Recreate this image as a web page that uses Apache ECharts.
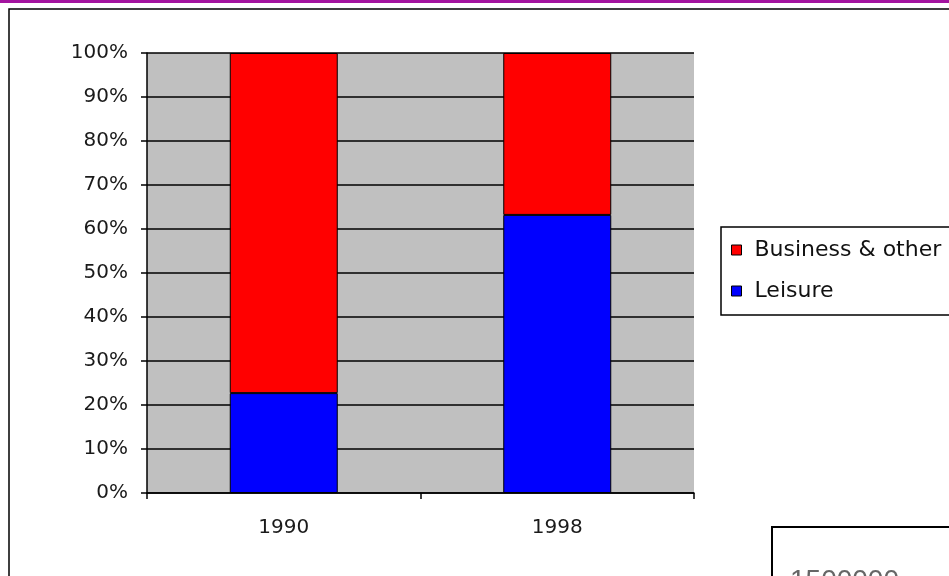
<!DOCTYPE html>
<html>
<head>
<meta charset="utf-8">
<script src="https://cdn.jsdelivr.net/npm/echarts@6/dist/echarts.min.js"></script>
<style>html,body{margin:0;padding:0;background:#fff;}#c{width:949px;height:576px;}</style>
</head>
<body>
<div id="c"></div>
<script>
const categories = ['1990', '1998'];
const leisure = [22.7, 63.2];
const business = [77.3, 36.8];
const seriesNames = ['Business & other', 'Leisure'];

const chart = echarts.init(document.getElementById('c'));
const font = 'DejaVu Sans, Verdana, sans-serif';
chart.setOption({
  animation: false,
  backgroundColor: '#fff',
  grid: { left: 147, right: 255, top: 53, bottom: 83, show: true, backgroundColor: '#c0c0c0', borderWidth: 0 },
  legend: {
    data: [seriesNames[0], seriesNames[1]],
    orient: 'vertical',
    left: 721, top: 227,
    padding: [12, 40, 13, 10],
    itemWidth: 10, itemHeight: 10, itemGap: 19,
    borderColor: '#000', borderWidth: 1.5,
    icon: 'rect',
    textStyle: { fontFamily: font, fontSize: 22, color: '#111', padding: [0, 0, 0, 8] },
    itemStyle: { borderColor: '#000', borderWidth: 1 }
  },
  xAxis: {
    type: 'category',
    data: categories,
    axisLine: { lineStyle: { color: '#000', width: 1.5 } },
    axisTick: { show: true, length: 6, lineStyle: { color: '#000', width: 1.5 } },
    axisLabel: { fontFamily: font, fontSize: 20, color: '#1a1a1a', margin: 25 }
  },
  yAxis: {
    type: 'value',
    min: 0, max: 100, interval: 10,
    axisLine: { show: true, lineStyle: { color: '#000', width: 1.5 } },
    axisTick: { show: true, length: 6, lineStyle: { color: '#000', width: 1.5 } },
    axisLabel: { fontFamily: font, fontSize: 20, color: '#1a1a1a', margin: 19, formatter: '{value}%' },
    splitLine: { show: true, lineStyle: { color: '#000', width: 1.5 } }
  },
  series: [
    { name: seriesNames[1], type: 'bar', stack: 't', data: leisure, barWidth: 108,
      itemStyle: { color: '#0000ff', borderColor: '#000', borderWidth: 1 } },
    { name: seriesNames[0], type: 'bar', stack: 't', data: business, barWidth: 108,
      itemStyle: { color: '#ff0000', borderColor: '#000', borderWidth: 1 } }
  ],
  graphic: [
    { type: 'rect', shape: { x: 0, y: 0, width: 949, height: 3 }, style: { fill: '#a3149f' } },
    { type: 'rect', shape: { x: 9, y: 9, width: 960, height: 600 }, style: { fill: 'none', stroke: '#000', lineWidth: 1.5 }, z: 0 },
    { type: 'rect', shape: { x: 772, y: 527, width: 200, height: 100 }, style: { fill: '#fff', stroke: '#000', lineWidth: 2 } },
    { type: 'text', left: 790, top: 567, style: { text: '1500000', font: '28px Liberation Sans, Arial, sans-serif', fill: '#666' } }
  ]
});
</script>
</body>
</html>
